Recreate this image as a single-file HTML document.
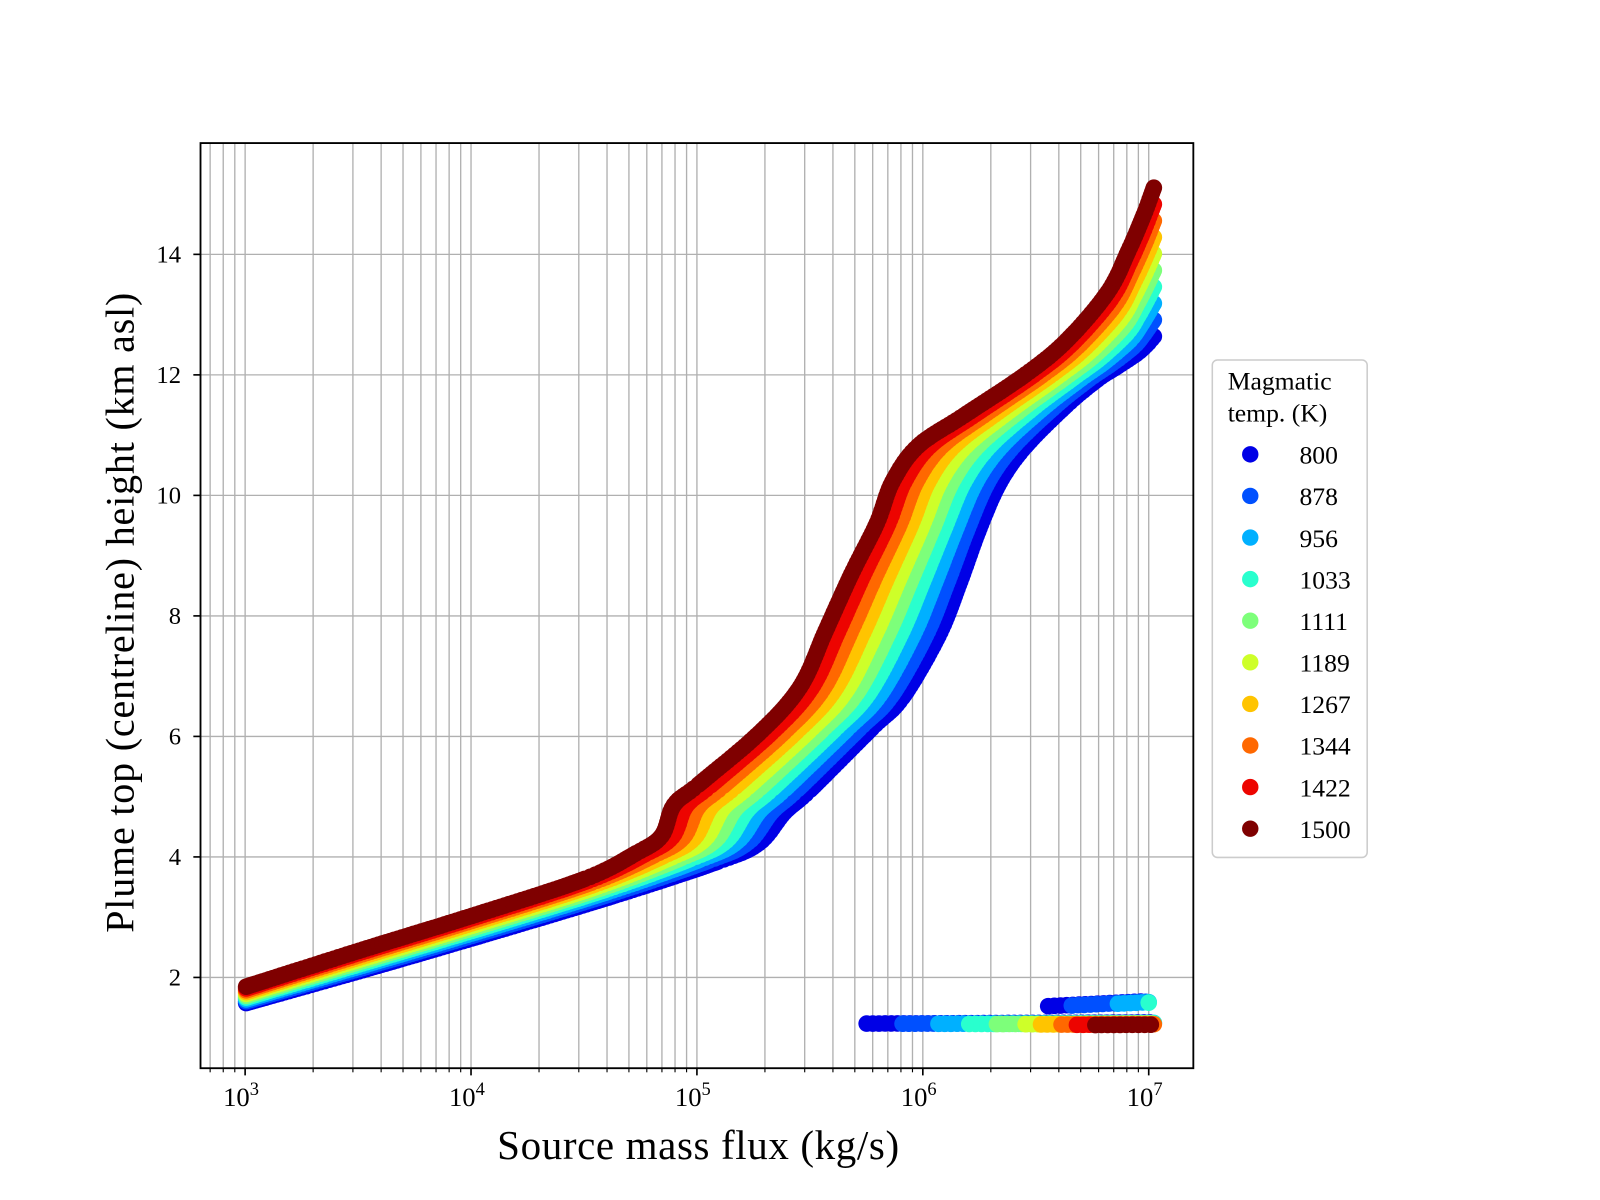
<!DOCTYPE html>
<html><head><meta charset="utf-8"><style>html,body{margin:0;padding:0;background:#fff;}svg{display:block}</style></head>
<body>
<svg id="s" width="1600" height="1200" viewBox="0 0 1560 1170" xmlns="http://www.w3.org/2000/svg" font-family="Liberation Serif, serif">
<rect width="1560" height="1170" fill="#fff"/>
<g id="grid"></g>
<g id="data"></g>
<rect x="195.5" y="139.5" width="968" height="902" fill="none" stroke="#000" stroke-width="1.8"/>
<g id="ticks"></g>
<text x="681" y="1130" font-size="40" letter-spacing="0.6" text-anchor="middle">Source mass flux (kg/s)</text>
<text transform="translate(130,597) rotate(-90)" font-size="39" letter-spacing="0.8" text-anchor="middle">Plume top (centreline) height (km asl)</text>
<g id="legend">
<rect x="1182" y="351" width="151" height="485" rx="5" fill="#fff" stroke="#ccc" stroke-width="1.5"/>
<text x="1197" y="380" font-size="25">Magmatic</text>
<text x="1197" y="411" font-size="25">temp. (K)</text>
</g>
</svg>
<script>
var NS="http://www.w3.org/2000/svg";
function el(p,t,a,txt){var e=document.createElementNS(NS,t);for(var k in a)e.setAttribute(k,a[k]);if(txt!==undefined)e.textContent=txt;p.appendChild(e);return e;}
var L=195.5,R=1163.5,T=139.5,B=1041.5;
var x3=239,x7=1120,dec=(x7-x3)/4;
function X(lg){return x3+(lg-3)*dec;}
function Y(v){return 953-(v-2)*58.75;}
var grid=document.getElementById('grid'),ticks=document.getElementById('ticks');
for(var d=2;d<=7;d++){for(var m=1;m<=9;m++){var lg=d+Math.log10(m);var x=X(lg);if(x<L+1||x>R-1)continue;
el(grid,'line',{x1:x,x2:x,y1:T,y2:B,stroke:'#b0b0b0','stroke-width':1.3});
el(ticks,'line',{x1:x,x2:x,y1:B,y2:B+(m==1?7:4),stroke:'#000','stroke-width':m==1?1.6:1.1});
if(m==1){var t=el(ticks,'text',{x:x-4,y:B+37,'font-size':26,'text-anchor':'middle'},'10');el(t,'tspan',{dy:-11,'font-size':18},''+d);}}}
for(var v=2;v<=14;v+=2){var y=Y(v);el(grid,'line',{x1:L,x2:R,y1:y,y2:y,stroke:'#b0b0b0','stroke-width':1.3});
el(ticks,'line',{x1:L-7,x2:L,y1:y,y2:y,stroke:'#000','stroke-width':1.6});
el(ticks,'text',{x:L-19,y:y+8,'font-size':24,'text-anchor':'end'},''+v);}
var cols=['#0000e6','#0050ff','#00b0ff','#29ffce','#7dff7a','#ceff29','#ffc400','#ff6800','#ed0400','#7f0000'];
var labs=['800','878','956','1033','1111','1189','1267','1344','1422','1500'];
var red=[[240,962],[350,927],[460,893],[570,857],[620,832],[645,815],[657,785],[681,765],[740,715],[780,670],[805,615],[830,560],[855,510],[870,470],[895,435],[940,405],[1000,365],[1040,332],[1080,285],[1100,245],[1115,210],[1125,183]];
var blue=[[240,978],[350,947],[460,915],[600,873],[700,840],[740,822],[765,792],[790,770],[850,710],[880,680],[915,620],[935,570],[955,515],[975,470],[1000,435],[1040,395],[1070,370],[1090,357],[1108,345],[1115,339],[1120,334],[1125,328]];
function cr(p0,p1,p2,p3,f){var f2=f*f,f3=f2*f;return 0.5*((2*p1)+(-p0+p2)*f+(2*p0-5*p1+4*p2-p3)*f2+(-p0+3*p1-3*p2+p3)*f3);}
var data=document.getElementById('data');
for(var i=0;i<10;i++){var t=i/9;
var pts=red.map(function(r,j){var b=blue[j];return [b[0]+(r[0]-b[0])*t,b[1]+(r[1]-b[1])*t];});
el(data,'circle',{cx:pts[0][0],cy:pts[0][1],r:8.1,fill:cols[i]});
var n=pts.length;
for(var j=1;j<n;j++){var a=pts[j-1],b=pts[j],p0=pts[Math.max(0,j-2)],p3=pts[Math.min(n-1,j+1)];var len=Math.hypot(b[0]-a[0],b[1]-a[1]);var m=Math.max(1,Math.ceil(len/4));
for(var k=1;k<=m;k++){var f=k/m;var x=cr(p0[0],a[0],b[0],p3[0],f),y=cr(p0[1],a[1],b[1],p3[1],f);el(data,'circle',{cx:x.toFixed(1),cy:y.toFixed(1),r:8.1,fill:cols[i]});}}}
var starts=[845,880,915,945,972,1000,1015,1035,1050,1068];
for(var i=0;i<10;i++){for(var x=starts[i];x<=1125;x+=6){var y=998+(i*0.25)-(x-845)*0.004;el(data,'circle',{cx:x.toFixed(1),cy:y.toFixed(1),r:8.1,fill:cols[i]});}}
var up=[[1022,1115],[1045,1120],[1090,1125],[1120,1125]];
for(var i=0;i<4;i++){for(var x=up[i][0];x<=up[i][1];x+=6){var y=981-(x-1022)*0.05+i*0.5;el(data,'circle',{cx:x.toFixed(1),cy:y.toFixed(1),r:8.1,fill:cols[i]});}}
var lg=document.getElementById('legend');
for(var i=0;i<10;i++){var y=443+i*40.55;el(lg,'circle',{cx:1219,cy:y,r:8,fill:cols[i]});el(lg,'text',{x:1267,y:y+9,'font-size':25},labs[i]);}
</script>
</body></html>
